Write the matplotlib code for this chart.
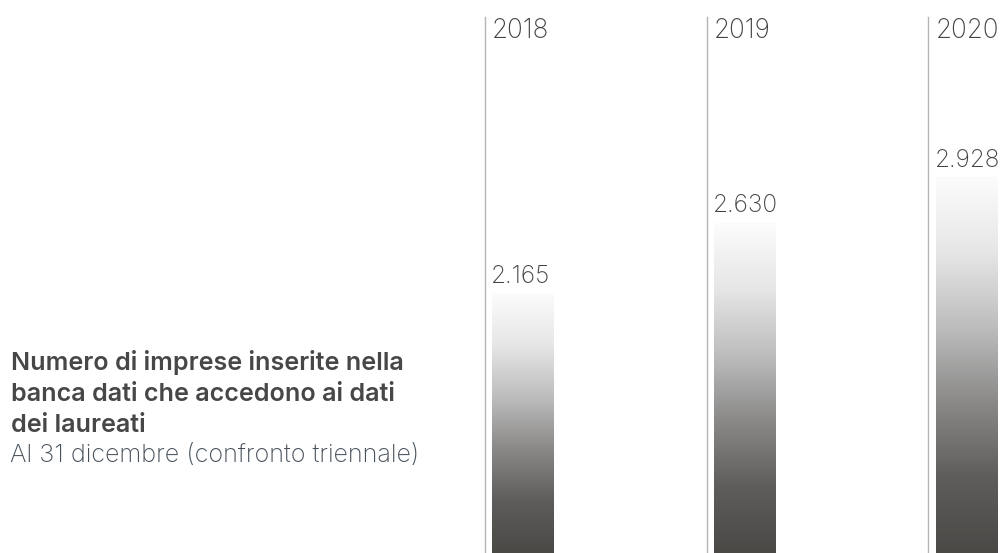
import numpy as np
import matplotlib.pyplot as plt
from matplotlib.colors import LinearSegmentedColormap

years = ["2018", "2019", "2020"]
values = [2165, 2630, 2928]
value_labels = ["2.165", "2.630", "2.928"]
title_lines = ["Numero di imprese inserite nella",
               "banca dati che accedono ai dati",
               "dei laureati"]
subtitle = "Al 31 dicembre (confronto triennale)"

plt.rcParams['font.family'] = ['Inter', 'DejaVu Sans']

W, H = 1001, 553
fig = plt.figure(figsize=(W / 100, H / 100), dpi=100)
ax = fig.add_axes([0, 0, 1, 1])
scale = 0.152  # pixels per unit
ymin = 460
ymax = ymin + H / scale
ax.set_xlim(0, W)
ax.set_ylim(ymin, ymax)
ax.axis('off')
px = 1 / scale


def ypix(p):
    return ymax - p * px


cmap = LinearSegmentedColormap.from_list(
    'g', ['#4a4946', '#5e5d5b', '#8a8988', '#bdbdbd', '#e6e6e6', '#fcfcfc'])
grad = np.linspace(0, 1, 256).reshape(-1, 1)

bar_x = [492, 714, 936]
bar_w = 62
line_x = [485, 707, 928]
for i, (y, v, lab) in enumerate(zip(years, values, value_labels)):
    x0 = bar_x[i]
    ax.imshow(grad, extent=[x0, x0 + bar_w, ymin, v], origin='lower', aspect='auto',
              cmap=cmap, interpolation='bicubic', zorder=2)
    ax.plot([line_x[i], line_x[i]], [ymin, ypix(17)], color='#b5b5b5', lw=1, zorder=1)
    ax.text(x0, ypix(38), y, fontsize=18.8, fontweight='light', color='#444444',
            ha='left', va='baseline')
    ax.text(x0 - 1, v + 11 * px, lab, fontsize=17.6, fontweight='light', color='#444444',
            ha='left', va='baseline')

ax.set_xlim(0, W)
ax.set_ylim(ymin, ymax)

baselines = [370, 401, 432]
for line, b in zip(title_lines, baselines):
    ax.text(11, ypix(b), line, fontsize=18.1, fontweight='semibold', color='#474747',
            ha='left', va='baseline')
ax.text(10, ypix(462), subtitle, fontsize=18.1, fontweight='light', color='#46505a',
        ha='left', va='baseline')

fig.savefig('out.png', dpi=100)
